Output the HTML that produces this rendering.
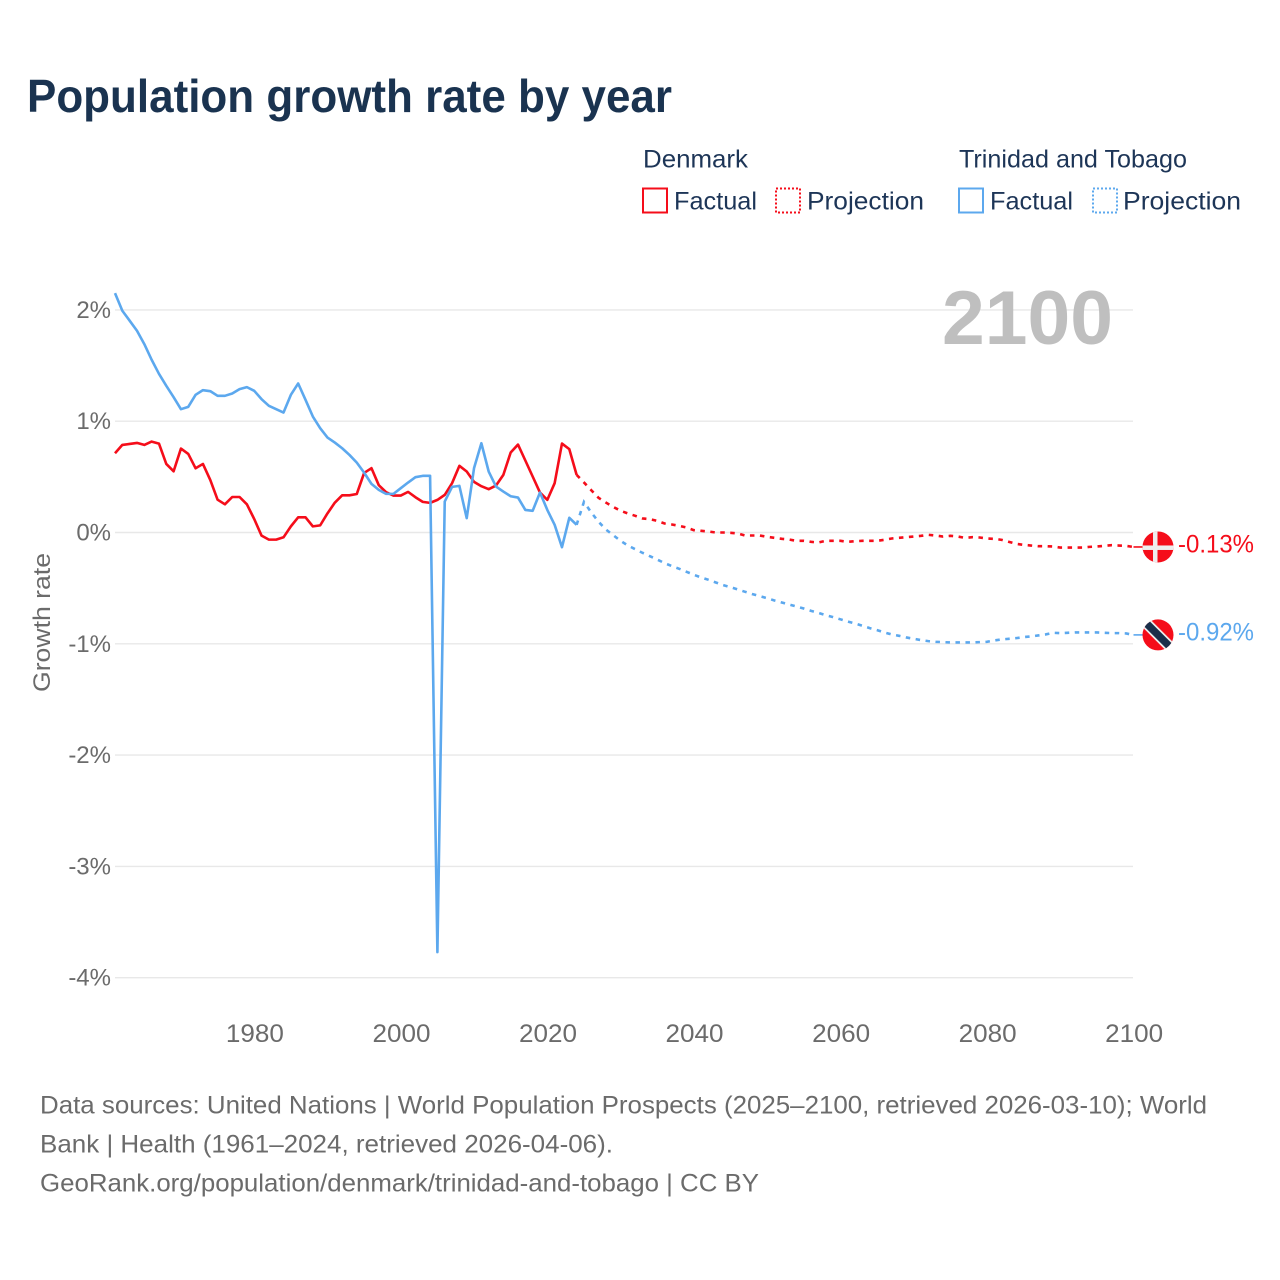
<!DOCTYPE html>
<html lang="en">
<head>
<meta charset="utf-8">
<title>Population growth rate by year</title>
<style>
html,body{margin:0;padding:0;background:#fff;}
svg{display:block;}
text{font-family:"Liberation Sans",sans-serif;}
</style>
</head>
<body>
<svg id="chart" xmlns="http://www.w3.org/2000/svg" width="1280" height="1280" viewBox="0 0 1280 1280">
  <rect x="0" y="0" width="1280" height="1280" fill="#ffffff"/>
  <text x="27" y="112" font-size="46" font-weight="700" fill="#1a3350" textLength="645" lengthAdjust="spacingAndGlyphs">Population growth rate by year</text>

  <g font-size="25" fill="#1d3557">
    <text x="643" y="167.5" textLength="105" lengthAdjust="spacingAndGlyphs">Denmark</text>
    <rect x="643" y="188.5" width="24" height="24" fill="none" stroke="#f50d1a" stroke-width="2"/>
    <text x="674" y="209.5" textLength="83" lengthAdjust="spacingAndGlyphs">Factual</text>
    <rect x="776" y="188.5" width="24" height="24" fill="none" stroke="#f50d1a" stroke-width="2" stroke-dasharray="2 2"/>
    <text x="807" y="209.5" textLength="117" lengthAdjust="spacingAndGlyphs">Projection</text>

    <text x="959" y="167.5" textLength="228" lengthAdjust="spacingAndGlyphs">Trinidad and Tobago</text>
    <rect x="959" y="188.5" width="24" height="24" fill="none" stroke="#5ca8ee" stroke-width="2"/>
    <text x="990" y="209.5" textLength="83" lengthAdjust="spacingAndGlyphs">Factual</text>
    <rect x="1093" y="188.5" width="24" height="24" fill="none" stroke="#5ca8ee" stroke-width="2" stroke-dasharray="2 2"/>
    <text x="1123" y="209.5" textLength="118" lengthAdjust="spacingAndGlyphs">Projection</text>
  </g>

  <g id="grid"></g>
  <text x="942" y="344" font-size="76" font-weight="700" fill="#bfbfbf" textLength="171" lengthAdjust="spacingAndGlyphs">2100</text>
  <g id="yticks"></g>
  <g id="xticks"></g>
  <text transform="translate(50,622.5) rotate(-90)" text-anchor="middle" font-size="24" fill="#6b6b6b" textLength="139" lengthAdjust="spacingAndGlyphs">Growth rate</text>
  <g id="series"></g>

  <defs>
    <clipPath id="flag-clip"><circle cx="0" cy="0" r="15.5"/></clipPath>
  </defs>
  <g id="flag-dk">
    <g clip-path="url(#flag-clip)">
      <rect x="-16" y="-16" width="32" height="32" fill="#f50d1a"/>
      <rect x="-5" y="-16" width="4.5" height="32" fill="#eeeeee"/>
      <rect x="-16" y="-1.5" width="32" height="4.5" fill="#eeeeee"/>
    </g>
  </g>
  <g id="flag-tt">
    <g clip-path="url(#flag-clip)">
      <rect x="-16" y="-16" width="32" height="32" fill="#f50d1a"/>
      <line x1="-16" y1="-16" x2="16" y2="16" stroke="#eeeeee" stroke-width="11"/>
      <line x1="-16" y1="-16" x2="16" y2="16" stroke="#1a2e4a" stroke-width="7.5"/>
    </g>
  </g>
  <text id="end-dk" x="1178" font-size="25" fill="#f50d1a" textLength="76" lengthAdjust="spacingAndGlyphs"></text>
  <text id="end-tt" x="1178" font-size="25" fill="#5ca8ee" textLength="76" lengthAdjust="spacingAndGlyphs"></text>

  <g font-size="25" fill="#6b6b6b">
    <text x="40" y="1113.5" textLength="1167" lengthAdjust="spacingAndGlyphs">Data sources: United Nations | World Population Prospects (2025–2100, retrieved 2026-03-10); World</text>
    <text x="40" y="1152.5" textLength="573" lengthAdjust="spacingAndGlyphs">Bank | Health (1961–2024, retrieved 2026-04-06).</text>
    <text x="40" y="1191.5" textLength="719" lengthAdjust="spacingAndGlyphs">GeoRank.org/population/denmark/trinidad-and-tobago | CC BY</text>
  </g>
</svg>
<script>
const yTickValues = [2, 1, 0, -1, -2, -3, -4];
const yTickLabels = ["2%", "1%", "0%", "-1%", "-2%", "-3%", "-4%"];
const xTickYears = [1980, 2000, 2020, 2040, 2060, 2080, 2100];
const factualStartYear = 1961;
const projectionStartYear = 2025;
const denmarkFactual = [
  .712,.787,.796,.805,.787,.817,.799,.616,.550,.754,
  .706,.577,.616,.472,.295,.253,.319,.319,.253,.121,
  -.028,-.064,-.064,-.043,.055,.136,.136,.055,.064,.172,
  .268,.334,.334,.346,.535,.578,.425,.362,.332,.332,
  .365,.317,.275,.266,.293,.338,.443,.599,.548,.455,
  .416,.389,.422,.518,.719,.790,.647,.503,.359,.293,
  .443,.799,.749,.518
];
const trinidadFactual = [
  2.151,1.992,1.903,1.813,1.693,1.552,1.426,1.318,1.216,1.108,
  1.129,1.237,1.279,1.270,1.228,1.228,1.249,1.288,1.306,1.273,
  1.198,1.138,1.108,1.078,1.237,1.339,1.192,1.042,.937,.853,
  .808,.757,.697,.628,.538,.437,.383,.347,.347,.398,
  .449,.497,.509,.509,-3.77,.278,.410,.419,.129,.578,
  .802,.548,.413,.368,.326,.314,.203,.195,.359,.203,
  .069,-.132,.132,.069
];
const denmarkProjection = [
  .45,.38,.311,.269,.23,
  .195,.171,.15,.126,.12,.105,.081,.072,.06,.045,
  .021,.015,.009,0,0,-.003,-.009,-.027,-.027,-.027,
  -.039,-.048,-.057,-.063,-.075,-.075,-.084,-.09,-.075,-.075,
  -.075,-.084,-.078,-.075,-.075,-.075,-.066,-.054,-.048,-.042,
  -.036,-.03,-.021,-.027,-.036,-.03,-.036,-.048,-.042,-.045,
  -.054,-.057,-.066,-.084,-.102,-.111,-.117,-.123,-.123,-.126,
  -.135,-.135,-.135,-.135,-.129,-.126,-.12,-.114,-.117,-.12,
  -.13
];
const trinidadProjection = [
  .275,.18,.096,.027,-.024,
  -.075,-.117,-.15,-.183,-.213,-.243,-.275,-.302,-.326,-.353,
  -.38,-.404,-.425,-.449,-.473,-.491,-.512,-.533,-.554,-.572,
  -.59,-.611,-.629,-.647,-.665,-.683,-.704,-.722,-.743,-.76,
  -.78,-.80,-.817,-.838,-.859,-.877,-.898,-.916,-.928,-.943,
  -.955,-.967,-.976,-.982,-.985,-.988,-.988,-.988,-.988,-.985,
  -.982,-.97,-.961,-.955,-.949,-.94,-.934,-.925,-.916,-.901,
  -.904,-.901,-.898,-.898,-.898,-.898,-.901,-.904,-.904,-.907,
  -.92
];

const SVG_NS = "http://www.w3.org/2000/svg";
const xScale = (year) => 115 + (year - 1961) * (1018.5 / 139);
const yScale = (value) => 532.5 - value * 111.3;

function make(tag, attrs, parent, text) {
  const el = document.createElementNS(SVG_NS, tag);
  for (const key in attrs) el.setAttribute(key, attrs[key]);
  if (text !== undefined) el.textContent = text;
  parent.appendChild(el);
  return el;
}

const gridGroup = document.getElementById("grid");
const yTickGroup = document.getElementById("yticks");
const xTickGroup = document.getElementById("xticks");
const seriesGroup = document.getElementById("series");

yTickValues.forEach((value, i) => {
  const line = make("line", {x1: 115, x2: 1133, y1: yScale(value), y2: yScale(value), stroke: "#e8e8e8", "stroke-width": 1.4}, gridGroup);
  
  
  const label = make("text", {x: 111, y: yScale(value) + 8, "text-anchor": "end", "font-size": 24, fill: "#6b6b6b"}, yTickGroup, yTickLabels[i]);
  
  
});

xTickYears.forEach((year) => {
  const label = make("text", {x: xScale(year) + 0.7, y: 1042, "text-anchor": "middle", "font-size": 25, fill: "#6b6b6b", textLength: 58, lengthAdjust: "spacingAndGlyphs"}, xTickGroup, String(year));
  
  
});

function pathFrom(values, startYear) {
  return values.map((v, i) => (i ? "L" : "M") + xScale(startYear + i).toFixed(2) + " " + yScale(v).toFixed(2)).join(" ");
}

function drawSeries(factual, projection, color, slug) {
  const lastFactual = factual[factual.length - 1];
  const lastProjection = projection[projection.length - 1];
  const endY = yScale(lastProjection);

  const solid = make("path", {d: pathFrom(factual, factualStartYear), fill: "none", stroke: color, "stroke-width": 2.6, "stroke-linejoin": "round"}, seriesGroup);
  
  

  const dashedValues = [lastFactual].concat(projection);
  const dashed = make("path", {d: pathFrom(dashedValues, projectionStartYear - 1), fill: "none", stroke: color, "stroke-width": 2.6, "stroke-dasharray": "4.5 5.5"}, seriesGroup);
  
  

  const connector = make("line", {x1: xScale(2100), x2: 1143, y1: endY, y2: endY, stroke: color, "stroke-width": 1.6}, seriesGroup);
  
  

  return endY;
}

const denmarkEndY = drawSeries(denmarkFactual, denmarkProjection, "#f50d1a", "denmark");
const trinidadEndY = drawSeries(trinidadFactual, trinidadProjection, "#5ca8ee", "trinidad");

document.getElementById("flag-dk").setAttribute("transform", "translate(1158," + denmarkEndY + ")");
document.getElementById("flag-tt").setAttribute("transform", "translate(1158," + trinidadEndY + ")");

const endDk = document.getElementById("end-dk");
endDk.setAttribute("y", denmarkEndY + 5.5);
endDk.textContent = denmarkProjection[denmarkProjection.length - 1].toFixed(2) + "%";
const endTt = document.getElementById("end-tt");
endTt.setAttribute("y", trinidadEndY + 5.5);
endTt.textContent = trinidadProjection[trinidadProjection.length - 1].toFixed(2) + "%";
</script>
</body>
</html>
